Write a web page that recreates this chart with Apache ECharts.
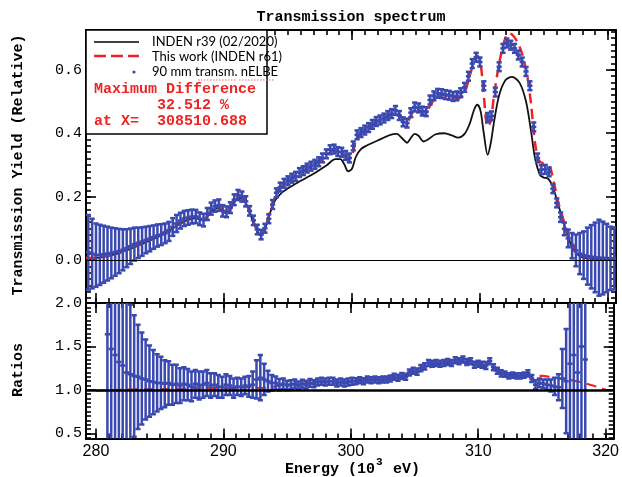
<!DOCTYPE html>
<html>
<head>
<meta charset="utf-8">
<script src="https://cdn.jsdelivr.net/npm/echarts@6/dist/echarts.min.js"></script>
<style>
html, body { margin: 0; padding: 0; background: #fff; }
#chart { width: 622px; height: 477px; }
</style>
</head>
<body>
<div id="chart"></div>
<script>
// ---- Transmission yield: 90 mm nELBE measurement [energy keV, yield, error] ----
const measured = [
  [279.4,0.024,0.118],[279.7,0.020,0.110],[280.0,0.015,0.100],[280.3,0.016,0.095],[280.6,0.018,0.090],
  [280.9,0.020,0.085],[281.2,0.022,0.080],[281.5,0.025,0.075],[281.8,0.028,0.070],[282.1,0.032,0.065],
  [282.4,0.037,0.060],[282.7,0.043,0.056],[283.0,0.050,0.052],[283.3,0.054,0.048],[283.6,0.058,0.045],
  [283.9,0.063,0.042],[284.2,0.067,0.040],[284.5,0.072,0.037],[284.8,0.077,0.035],[285.1,0.080,0.033],
  [285.4,0.084,0.031],[285.7,0.090,0.030],[286.0,0.104,0.028],[286.3,0.115,0.027],[286.6,0.124,0.025],
  [286.9,0.131,0.024],[287.2,0.134,0.023],[287.5,0.137,0.022],[287.8,0.137,0.021],[288.1,0.130,0.020],
  [288.4,0.126,0.020],[288.7,0.145,0.019],[289.0,0.162,0.019],[289.3,0.170,0.018],[289.6,0.173,0.018],
  [289.9,0.155,0.018],[290.2,0.152,0.017],[290.5,0.165,0.017],[290.8,0.190,0.017],[291.1,0.205,0.016],
  [291.4,0.200,0.016],[291.7,0.185,0.016],[292.0,0.155,0.015],[292.3,0.125,0.015],[292.6,0.096,0.015],
  [292.9,0.080,0.015],[293.2,0.100,0.014],[293.5,0.130,0.014],[293.8,0.175,0.014],[294.1,0.212,0.014],
  [294.4,0.230,0.014],[294.7,0.242,0.014],[295.0,0.250,0.014],[295.3,0.258,0.014],[295.6,0.264,0.014],
  [295.9,0.276,0.014],[296.2,0.282,0.014],[296.5,0.290,0.014],[296.8,0.296,0.014],[297.1,0.302,0.014],
  [297.4,0.310,0.014],[297.7,0.322,0.014],[298.0,0.335,0.014],[298.3,0.348,0.014],[298.6,0.350,0.014],
  [298.9,0.342,0.014],[299.2,0.340,0.014],[299.5,0.330,0.014],[299.8,0.322,0.014],[300.1,0.360,0.014],
  [300.4,0.395,0.014],[300.7,0.402,0.014],[301.0,0.410,0.014],[301.3,0.418,0.014],[301.6,0.428,0.014],
  [301.9,0.437,0.014],[302.2,0.442,0.014],[302.5,0.448,0.014],[302.8,0.456,0.014],[303.1,0.462,0.014],
  [303.4,0.472,0.014],[303.7,0.456,0.014],[304.0,0.436,0.014],[304.3,0.432,0.014],[304.6,0.465,0.014],
  [304.9,0.483,0.014],[305.2,0.480,0.014],[305.5,0.470,0.014],[305.8,0.468,0.014],[306.1,0.505,0.014],
  [306.4,0.518,0.014],[306.7,0.526,0.014],[307.0,0.525,0.014],[307.3,0.522,0.014],[307.6,0.520,0.014],
  [307.9,0.516,0.014],[308.2,0.518,0.014],[308.5,0.528,0.014],[308.8,0.545,0.014],[309.1,0.580,0.014],
  [309.4,0.620,0.014],[309.7,0.640,0.014],[310.0,0.625,0.014],[310.3,0.550,0.014],[310.6,0.450,0.014],
  [310.9,0.455,0.014],[311.2,0.530,0.014],[311.5,0.610,0.014],[311.8,0.668,0.014],[312.1,0.685,0.014],
  [312.4,0.678,0.014],[312.7,0.668,0.014],[313.0,0.647,0.014],[313.3,0.625,0.014],[313.6,0.595,0.014],
  [313.9,0.550,0.014],[314.2,0.420,0.014],[314.5,0.322,0.014],[314.8,0.285,0.014],[315.1,0.286,0.014],
  [315.4,0.278,0.014],[315.7,0.225,0.014],[316.0,0.180,0.014],[316.3,0.135,0.015],[316.6,0.098,0.020],
  [316.9,0.068,0.028],[317.2,0.045,0.040],[317.5,0.030,0.050],[317.8,0.020,0.065],[318.1,0.015,0.075],
  [318.4,0.012,0.090],[318.7,0.010,0.100],[319.0,0.008,0.110],[319.3,0.007,0.120],[319.6,0.006,0.115],
  [319.9,0.006,0.108],[320.2,0.005,0.100],[320.5,0.005,0.098]
];

// ---- INDEN r39 (02/2020) evaluation [energy keV, yield] ----
const indenR39 = [
  [279.22,0.004],[280,0.006],[281,0.013],[282,0.024],[283,0.040],[284,0.058],[285,0.076],[286,0.100],
  [287,0.123],[287.8,0.132],[288.4,0.126],[289.0,0.152],[289.6,0.165],[290.1,0.148],[290.5,0.160],
  [291.1,0.196],[291.5,0.194],[292.0,0.150],[292.5,0.100],[292.9,0.077],[293.2,0.098],[293.6,0.148],
  [294.0,0.188],[294.5,0.212],[295.0,0.226],[295.5,0.238],[296.0,0.250],[297.0,0.272],[298.0,0.298],
  [298.7,0.318],[299.1,0.318],[299.4,0.302],[299.7,0.280],[300.0,0.288],[300.3,0.325],[300.7,0.350],
  [301.2,0.362],[302.0,0.377],[303.0,0.395],[303.5,0.398],[303.9,0.385],[304.3,0.370],[304.6,0.385],
  [304.9,0.398],[305.2,0.392],[305.6,0.374],[306.0,0.382],[306.5,0.396],[307.2,0.400],[307.8,0.393],
  [308.3,0.386],[308.8,0.398],[309.2,0.430],[309.55,0.475],[309.8,0.490],[310.05,0.470],[310.3,0.400],
  [310.6,0.332],[310.85,0.370],[311.1,0.436],[311.5,0.520],[312.0,0.568],[312.5,0.578],[313.1,0.559],
  [313.6,0.500],[314.0,0.404],[314.3,0.322],[314.7,0.268],[315.0,0.260],[315.3,0.257],[315.6,0.240],
  [315.9,0.205],[316.3,0.150],[316.7,0.095],[317.1,0.050],[317.5,0.022],[318.0,0.008],[318.6,0.004],
  [319.5,0.003],[320.63,0.003]
];

// ---- This work (INDEN r61) [energy keV, yield] ----
const indenR61 = [
  [279.22,0.006],[280,0.007],[281,0.014],[282,0.026],[283,0.043],[284,0.062],[285,0.080],[286,0.104],
  [287,0.128],[287.8,0.136],[288.4,0.128],[289.0,0.158],[289.6,0.170],[290.1,0.150],[290.5,0.162],
  [291.1,0.200],[291.5,0.197],[292.0,0.153],[292.5,0.102],[292.9,0.078],[293.2,0.100],[293.6,0.152],
  [294.0,0.200],[294.5,0.232],[295.0,0.248],[295.5,0.262],[296.0,0.276],[297.0,0.300],[298.0,0.330],
  [298.6,0.346],[299.0,0.342],[299.4,0.330],[299.7,0.318],[300.0,0.330],[300.3,0.375],[300.7,0.400],
  [301.2,0.414],[302.0,0.437],[303.0,0.458],[303.5,0.465],[303.9,0.450],[304.3,0.434],[304.6,0.455],
  [304.9,0.478],[305.2,0.475],[305.6,0.460],[306.0,0.480],[306.5,0.510],[307.2,0.520],[307.8,0.515],
  [308.3,0.510],[308.8,0.530],[309.2,0.580],[309.55,0.630],[309.8,0.645],[310.05,0.620],[310.3,0.520],
  [310.6,0.420],[310.85,0.440],[311.1,0.520],[311.5,0.620],[311.9,0.690],[312.2,0.715],[312.5,0.712],
  [312.9,0.690],[313.3,0.650],[313.7,0.580],[314.0,0.490],[314.3,0.370],[314.6,0.315],[314.9,0.305],
  [315.2,0.303],[315.5,0.290],[315.8,0.240],[316.1,0.185],[316.5,0.130],[316.9,0.080],[317.3,0.045],
  [317.7,0.020],[318.2,0.010],[319.0,0.006],[320.63,0.005]
];

// ---- Ratios to INDEN r39: measurement [energy keV, ratio, error] ----
const measuredRatio = [
  [280.9,1.64,1.50],[281.2,1.47,1.30],[281.5,1.40,1.20],[281.8,1.32,1.10],[282.1,1.28,1.00],
  [282.4,1.20,0.90],[282.7,1.18,0.80],[283.0,1.16,0.70],[283.3,1.15,0.60],[283.6,1.13,0.53],
  [283.9,1.12,0.46],[284.2,1.10,0.41],[284.5,1.09,0.37],[284.8,1.08,0.33],[285.1,1.08,0.30],
  [285.4,1.07,0.27],[285.7,1.08,0.25],[286.0,1.06,0.23],[286.3,1.07,0.22],[286.6,1.05,0.20],
  [286.9,1.07,0.19],[287.2,1.06,0.18],[287.5,1.04,0.17],[287.8,1.07,0.16],[288.1,1.05,0.16],
  [288.4,1.06,0.15],[288.7,1.08,0.15],[289.0,1.05,0.14],[289.3,1.06,0.13],[289.6,1.04,0.13],
  [289.9,1.03,0.12],[290.2,1.06,0.12],[290.5,1.05,0.11],[290.8,1.02,0.11],[291.1,1.04,0.10],
  [291.4,1.03,0.10],[291.7,1.05,0.10],[292.0,1.04,0.12],[292.3,1.06,0.15],[292.6,1.12,0.22],
  [292.9,1.14,0.26],[293.2,1.12,0.18],[293.5,1.10,0.12],[293.8,1.08,0.09],[294.1,1.08,0.075],
  [294.4,1.06,0.065],[294.7,1.07,0.06],[295.0,1.05,0.055],[295.3,1.06,0.05],[295.6,1.07,0.05],
  [295.9,1.05,0.045],[296.2,1.07,0.045],[296.5,1.06,0.045],[296.8,1.08,0.045],[297.1,1.07,0.04],
  [297.4,1.09,0.04],[297.7,1.10,0.04],[298.0,1.09,0.04],[298.3,1.10,0.04],[298.6,1.10,0.04],
  [298.9,1.08,0.04],[299.2,1.09,0.04],[299.5,1.08,0.04],[299.8,1.09,0.04],[300.1,1.10,0.04],
  [300.4,1.10,0.035],[300.7,1.11,0.035],[301.0,1.10,0.035],[301.3,1.12,0.035],[301.6,1.11,0.035],
  [301.9,1.12,0.035],[302.2,1.11,0.035],[302.5,1.12,0.035],[302.8,1.12,0.035],[303.1,1.13,0.035],
  [303.4,1.15,0.035],[303.7,1.14,0.035],[304.0,1.16,0.035],[304.3,1.15,0.035],[304.6,1.20,0.035],
  [304.9,1.22,0.035],[305.2,1.21,0.035],[305.5,1.25,0.035],[305.8,1.27,0.035],[306.1,1.31,0.035],
  [306.4,1.30,0.035],[306.7,1.31,0.035],[307.0,1.30,0.035],[307.3,1.31,0.035],[307.6,1.32,0.035],
  [307.9,1.31,0.035],[308.2,1.34,0.035],[308.5,1.33,0.035],[308.8,1.35,0.035],[309.1,1.32,0.035],
  [309.4,1.33,0.035],[309.7,1.29,0.035],[310.0,1.30,0.035],[310.3,1.29,0.035],[310.6,1.28,0.04],
  [310.9,1.33,0.035],[311.2,1.26,0.035],[311.5,1.22,0.035],[311.8,1.19,0.035],[312.1,1.18,0.03],
  [312.4,1.16,0.03],[312.7,1.17,0.03],[313.0,1.16,0.03],[313.3,1.16,0.03],[313.6,1.17,0.03],
  [313.9,1.19,0.035],[314.2,1.13,0.04],[314.5,1.06,0.05],[314.8,1.08,0.05],[315.1,1.07,0.05],
  [315.4,1.06,0.06],[315.7,1.05,0.07],[316.0,1.04,0.10],[316.3,1.03,0.15],[316.6,1.13,0.34],
  [316.9,1.10,0.60],[317.2,1.30,1.20],[317.5,1.40,1.50],[317.8,1.20,1.50],[318.1,1.50,1.50],
  [318.4,1.35,1.50]
];

// ---- Ratio of INDEN r61 to INDEN r39 [energy keV, ratio] ----
const evalRatio = [
  [280,0.99],[282,1.00],[284,1.01],[286,1.01],[288,1.02],[290,1.02],[292,1.03],[293,1.02],[294,1.04],
  [295,1.06],[296,1.07],[297,1.08],[298,1.09],[299,1.09],[300,1.10],[301,1.11],[302,1.12],[303,1.13],
  [304,1.15],[305,1.19],[306,1.25],[307,1.29],[308,1.31],[308.5,1.325],[309,1.31],[310,1.28],
  [311,1.25],[312,1.20],[313,1.17],[314,1.16],[315,1.16],[316,1.14],[317,1.12],[318,1.09],
  [319,1.05],[320,1.00]
];

// ---- Axis ticks ----
const xTickLabels = [280, 290, 300, 310, 320];
const yieldTickLabels = [0.0, 0.2, 0.4, 0.6];
const ratioTickLabels = [0.5, 1.0, 1.5, 2.0];

const X_MIN = 279.22, X_MAX = 320.63;
const Y1_MIN = -0.136, Y1_MAX = 0.726;
const Y2_MIN = 0.44, Y2_MAX = 2.0;

function steps(from, to, step) {
  const out = [];
  for (let v = from; v <= to + 1e-9; v += step) out.push(Math.round(v * 1000) / 1000);
  return out;
}
const xMinor = steps(280, 320, 1);
const yieldMinor = steps(-0.12, 0.72, 0.02);
const ratioMinor = steps(0.45, 2.0, 0.05);

const BLUE = '#3949b0';
const RED = '#ee2424';
const MONO = '"Liberation Mono", "DejaVu Sans Mono", monospace';
const SANS = 'Lato, "Open Sans", sans-serif';

const frameLine = { show: true, onZero: false, lineStyle: { color: '#000', width: 2 } };
const tickStyle = { color: '#000', width: 1.6 };

function xAxesFor(grid, withLabels) {
  const base = { type: 'value', gridIndex: grid, min: X_MIN, max: X_MAX,
    splitLine: { show: false }, axisLine: frameLine };
  const list = [];
  ['bottom', 'top'].forEach(function (pos) {
    list.push(Object.assign({}, base, { position: pos,
      axisTick: { show: true, inside: true, length: 10, customValues: xTickLabels, lineStyle: tickStyle },
      axisLabel: (withLabels && pos === 'bottom') ? {
        show: true, customValues: xTickLabels, margin: 5, color: '#000',
        fontFamily: '"Liberation Sans", Arial, sans-serif', fontSize: 16,
        formatter: function (v) { return String(Math.round(v)); }
      } : { show: false } }));
    list.push(Object.assign({}, base, { position: pos,
      axisTick: { show: true, inside: true, length: 5, customValues: xMinor, lineStyle: tickStyle },
      axisLabel: { show: false } }));
  });
  return list;
}

function yAxesFor(grid, min, max, major, minor) {
  const base = { type: 'value', gridIndex: grid, min: min, max: max,
    splitLine: { show: false }, axisLine: frameLine };
  const list = [];
  ['left', 'right'].forEach(function (pos) {
    list.push(Object.assign({}, base, { position: pos,
      axisTick: { show: true, inside: true, length: 10, customValues: major, lineStyle: tickStyle },
      axisLabel: pos === 'left' ? {
        show: true, customValues: major, margin: 4, color: '#000',
        fontFamily: MONO, fontSize: 15,
        formatter: function (v) { return v.toFixed(1); }
      } : { show: false } }));
    list.push(Object.assign({}, base, { position: pos,
      axisTick: { show: true, inside: true, length: 5, customValues: minor, lineStyle: tickStyle },
      axisLabel: { show: false } }));
  });
  return list;
}

// Vertical error bar with caps and a short centre tick
function errorBar(params, api) {
  const x = api.value(0), y = api.value(1), e = api.value(2);
  const c = api.coord([x, y]);
  const t = api.coord([x, y + e]);
  const b = api.coord([x, y - e]);
  const hw = 2.6;
  const st = { stroke: BLUE, lineWidth: 2.5 };
  return {
    type: 'group',
    children: [
      { type: 'line', shape: { x1: c[0], y1: t[1], x2: c[0], y2: b[1] }, style: st },
      { type: 'line', shape: { x1: c[0] - hw, y1: t[1], x2: c[0] + hw, y2: t[1] }, style: st },
      { type: 'line', shape: { x1: c[0] - hw, y1: b[1], x2: c[0] + hw, y2: b[1] }, style: st },
      { type: 'line', shape: { x1: c[0] - hw, y1: c[1], x2: c[0] + hw, y2: c[1] }, style: st }
    ]
  };
}

const chart = echarts.init(document.getElementById('chart'), null, { renderer: 'canvas' });

const legendX = 94;
const option = {
  backgroundColor: '#fff',
  animation: false,
  grid: [
    { left: 86, right: 6, top: 30, height: 273 },
    { left: 86, right: 6, top: 303, height: 135.5 }
  ],
  xAxis: xAxesFor(0, false).concat(xAxesFor(1, true)),
  yAxis: yAxesFor(0, Y1_MIN, Y1_MAX, yieldTickLabels, yieldMinor)
    .concat(yAxesFor(1, Y2_MIN, Y2_MAX, ratioTickLabels, ratioMinor)),
  series: [
    {
      name: 'INDEN r39 (02/2020)', type: 'line', xAxisIndex: 0, yAxisIndex: 0,
      data: indenR39, showSymbol: false, smooth: 0.3, z: 3,
      lineStyle: { color: '#111', width: 1.8 },
      markLine: {
        silent: true, symbol: 'none', label: { show: false },
        lineStyle: { color: '#000', width: 1.2, type: 'solid' },
        data: [{ yAxis: 0 }]
      }
    },
    {
      name: 'This work (INDEN r61)', type: 'line', xAxisIndex: 0, yAxisIndex: 0,
      data: indenR61, showSymbol: false, smooth: 0.3, z: 3,
      lineStyle: { color: RED, width: 2.5, type: [10, 6] }
    },
    {
      name: '90 mm transm. nELBE', type: 'custom', xAxisIndex: 0, yAxisIndex: 0,
      data: measured, renderItem: errorBar, clip: true, z: 4,
      encode: { x: 0, y: 1 }
    },
    {
      name: 'r39 reference', type: 'line', xAxisIndex: 4, yAxisIndex: 4,
      data: [], showSymbol: false, z: 3,
      markLine: {
        silent: true, symbol: 'none', label: { show: false },
        lineStyle: { color: '#000', width: 2.6, type: 'solid' },
        data: [{ yAxis: 1 }]
      }
    },
    {
      name: 'r61 / r39', type: 'line', xAxisIndex: 4, yAxisIndex: 4,
      data: evalRatio, showSymbol: false, smooth: 0.3, z: 3,
      lineStyle: { color: RED, width: 2.2, type: [10, 6] }
    },
    {
      name: 'nELBE / r39', type: 'custom', xAxisIndex: 4, yAxisIndex: 4,
      data: measuredRatio, renderItem: errorBar, clip: true, z: 4,
      encode: { x: 0, y: 1 }
    }
  ],
  graphic: [
    // title
    { type: 'text', x: 351, y: 17, z: 10,
      style: { text: 'Transmission spectrum', font: 'bold 15px ' + MONO, fill: '#000',
        textAlign: 'center', textVerticalAlign: 'middle' } },
    // y-axis names
    { type: 'text', x: 18, y: 165, rotation: Math.PI / 2, z: 10,
      style: { text: 'Transmission Yield (Relative)', font: 'bold 15px ' + MONO, fill: '#000',
        textAlign: 'center', textVerticalAlign: 'middle' } },
    { type: 'text', x: 18, y: 370, rotation: Math.PI / 2, z: 10,
      style: { text: 'Ratios', font: 'bold 15px ' + MONO, fill: '#000',
        textAlign: 'center', textVerticalAlign: 'middle' } },
    // x-axis name with superscript
    { type: 'text', x: 285, y: 469, z: 10,
      style: { text: 'Energy (10', font: 'bold 15px ' + MONO, fill: '#000',
        textAlign: 'left', textVerticalAlign: 'middle' } },
    { type: 'text', x: 376, y: 462, z: 10,
      style: { text: '3', font: 'bold 11px ' + MONO, fill: '#000',
        textAlign: 'left', textVerticalAlign: 'middle' } },
    { type: 'text', x: 384, y: 469, z: 10,
      style: { text: ' eV)', font: 'bold 15px ' + MONO, fill: '#000',
        textAlign: 'left', textVerticalAlign: 'middle' } },
    // legend box
    { type: 'rect', z: 20, shape: { x: 86, y: 30, width: 181, height: 104 },
      style: { fill: '#fff', stroke: '#000', lineWidth: 1.5 } },
    { type: 'line', z: 21, shape: { x1: legendX, y1: 42, x2: 139, y2: 42 },
      style: { stroke: '#000', lineWidth: 1.5 } },
    { type: 'line', z: 21, shape: { x1: legendX, y1: 56, x2: 139, y2: 56 },
      style: { stroke: RED, lineWidth: 2.5, lineDash: [12, 5] } },
    { type: 'circle', z: 21, shape: { cx: 134, cy: 72, r: 1.6 }, style: { fill: BLUE } },
    { type: 'text', z: 21, x: 152, y: 42,
      style: { text: 'INDEN r39 (02/2020)', font: '13px ' + SANS, fill: '#000', textVerticalAlign: 'middle' } },
    { type: 'text', z: 21, x: 152, y: 57,
      style: { text: 'This work (INDEN r61)', font: '13px ' + SANS, fill: '#000', textVerticalAlign: 'middle' } },
    { type: 'text', z: 21, x: 152, y: 72,
      style: { text: '90 mm transm. nELBE', font: '13px ' + SANS, fill: '#000', textVerticalAlign: 'middle' } },
    { type: 'line', z: 21, shape: { x1: 198, y1: 80, x2: 236, y2: 80 },
      style: { stroke: '#e86a6a', lineWidth: 1, lineDash: [1.5, 1.5] } },
    { type: 'line', z: 21, shape: { x1: 239, y1: 80, x2: 275, y2: 80 },
      style: { stroke: '#e86a6a', lineWidth: 1, lineDash: [1.5, 1.5] } },
    { type: 'text', z: 21, x: legendX, y: 89,
      style: { text: 'Maximum Difference', font: 'bold 15px ' + MONO, fill: RED, textVerticalAlign: 'middle' } },
    { type: 'text', z: 21, x: 157, y: 105,
      style: { text: '32.512 %', font: 'bold 15px ' + MONO, fill: RED, textVerticalAlign: 'middle' } },
    { type: 'text', z: 21, x: legendX, y: 121,
      style: { text: 'at X=', font: 'bold 15px ' + MONO, fill: RED, textVerticalAlign: 'middle' } },
    { type: 'text', z: 21, x: 157, y: 121,
      style: { text: '308510.688', font: 'bold 15px ' + MONO, fill: RED, textVerticalAlign: 'middle' } }
  ]
};

chart.setOption(option);
</script>
</body>
</html>
